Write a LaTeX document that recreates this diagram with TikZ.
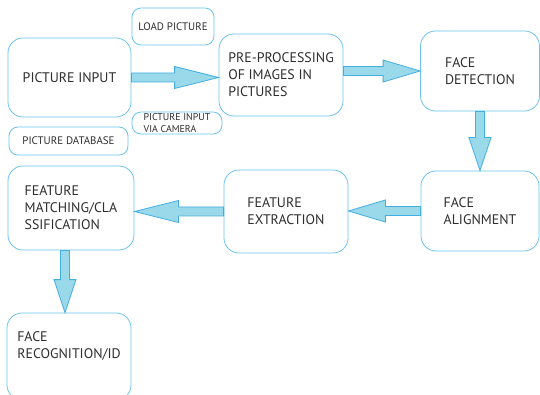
\documentclass[tikz,border=0pt]{standalone}
\usepackage{fontspec}
\setmainfont{PT Sans}
\usetikzlibrary{calc}

\definecolor{boxline}{HTML}{6CC3EE}
\definecolor{arrowline}{HTML}{45AEE0}
\definecolor{arrowfill}{HTML}{99D9EA}
\definecolor{ink}{HTML}{2E2E2E}

\begin{document}
\begin{tikzpicture}[
x=1pt, y=-1pt,
text=ink,
stage/.style={rectangle,draw=boxline,line width=0.8pt,rounded corners=15pt,align=left,
  font=\fontsize{13.9}{17}\selectfont},
source/.style={rectangle,draw=boxline,line width=0.8pt,rounded corners=9pt,align=center,
  font=\fontsize{10.9}{12}\selectfont},
fat/.style={draw=arrowline,fill=arrowfill,line width=0.8pt,line join=miter,
  to path={let \p1=(\tikztostart), \p2=(\tikztotarget),
    \n1={veclen(\x2-\x1,\y2-\y1)}, \n2={(\x2-\x1)/\n1}, \n3={(\y2-\y1)/\n1},
    \n4={\n1-#1} in
    (\x1-\n3*4.5pt, \y1+\n2*4.5pt)
    -- (\x1+\n2*\n4-\n3*4.5pt, \y1+\n3*\n4+\n2*4.5pt)
    -- (\x1+\n2*\n4-\n3*11pt, \y1+\n3*\n4+\n2*11pt)
    -- (\tikztotarget)
    -- (\x1+\n2*\n4+\n3*11pt, \y1+\n3*\n4-\n2*11pt)
    -- (\x1+\n2*\n4+\n3*4.5pt, \y1+\n3*\n4-\n2*4.5pt)
    -- (\x1+\n3*4.5pt, \y1-\n2*4.5pt) -- cycle}},
]

\useasboundingbox (0,0) rectangle (540,395);

% Picture sources
\node [stage, align=center, minimum width=123, minimum height=79] (input) at (69.5,77.5) {PICTURE INPUT};
\node [source, minimum width=82, minimum height=37] (load) at (173,26.5) {LOAD PICTURE};
\node [source, align=left, minimum width=90, minimum height=22, inner sep=1pt,
  font=\fontsize{9.9}{11.5}\selectfont] (camera) at (177,123) {PICTURE INPUT\\VIA CAMERA};
\node [source, minimum width=119, minimum height=28] (database) at (68.5,141) {PICTURE DATABASE};

% Processing stages
\node [stage, minimum width=124, minimum height=82] (pre) at (281,75) {PRE-PROCESSING\\OF IMAGES IN\\PICTURES};
\node [stage, minimum width=119, minimum height=80] (detect) at (480,71) {FACE\\DETECTION};
\node [stage, minimum width=118, minimum height=80] (align) at (480,211) {FACE\\ALIGNMENT};
\node [stage, minimum width=124, minimum height=83] (extract) at (286,211.5) {FEATURE\\EXTRACTION};
\node [stage, minimum width=126, minimum height=84] (match) at (71,208) {FEATURE\\MATCHING/CLA\\SSIFICATION};
\node [stage, minimum width=124, minimum height=87, text depth=22pt] (recog) at (69,356.5) {FACE\\RECOGNITION/ID};

% Fat arrows between stages
\draw [fat=44] (input.east) to (input.east -| pre.west);
\draw [fat=37] (pre.east |- detect.west) to (detect.west);
\draw [fat=33] (detect.south) to (detect.south |- align.north);
\draw [fat=37] (align.west) to (align.west -| extract.east);
\draw [fat=44] (extract.west) to (extract.west -| match.east);
\draw [fat=33] ([xshift=-6pt]match.south) to ([xshift=-6pt]match.south |- recog.north);
\end{tikzpicture}
\end{document}
